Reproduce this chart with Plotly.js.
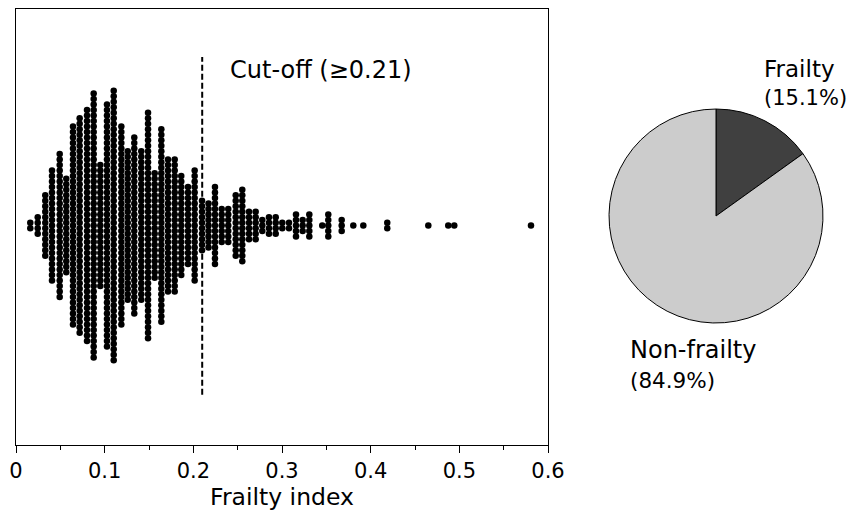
<!DOCTYPE html>
<html>
<head>
<meta charset="utf-8">
<script src="https://cdn.plot.ly/plotly-3.0.1.min.js"></script>
<style>
  html, body { margin: 0; padding: 0; background: #ffffff; }
  #chart { width: 852px; height: 511px; }
</style>
</head>
<body>
<div id="chart"></div>
<script>
// Distinct frailty index values and how many participants share each value
const fiValues = [0.0161, 0.0245, 0.0330, 0.0406, 0.0493, 0.0567, 0.0643, 0.0718, 0.0801, 0.0876,
                  0.0951, 0.1026, 0.1102, 0.1188, 0.1260, 0.1334, 0.1413, 0.1489, 0.1564, 0.1639,
                  0.1714, 0.1790, 0.1864, 0.1940, 0.2015, 0.2098, 0.2171, 0.2244, 0.2320, 0.2394,
                  0.2478, 0.2552, 0.2628, 0.2703, 0.2778, 0.2853, 0.2929, 0.3003, 0.3079, 0.3158,
                  0.3233, 0.3308, 0.3454, 0.3522, 0.3673, 0.3804, 0.3917, 0.4187, 0.4650, 0.4875,
                  0.4943, 0.5808];
const fiCounts = [2, 4, 12, 21, 27, 18, 37, 40, 43, 49,
                  23, 45, 50, 37, 28, 33, 28, 42, 20, 36,
                  25, 25, 19, 15, 21, 10, 9, 15, 7, 7,
                  12, 14, 6, 6, 3, 4, 4, 2, 2, 5,
                  3, 5, 1, 5, 3, 1, 1, 2, 1, 1,
                  1, 1];

// Frailty cut-off
const cutoff = 0.21;

// Prevalence pie
const pieLabels = ['Frailty', 'Non-frailty'];
const pieValues = [15.1, 84.9];
const pieColors = ['#404040', '#cccccc'];

// x-axis ticks
const tickVals = [0, 0.1, 0.2, 0.3, 0.4, 0.5, 0.6];
const tickText = ['0', '0.1', '0.2', '0.3', '0.4', '0.5', '0.6'];

// Beeswarm layout: participants sharing a value are stacked symmetrically around y = 0
const swarmX = [];
const swarmY = [];
fiValues.forEach((v, k) => {
  const n = fiCounts[k];
  for (let i = 0; i < n; i++) {
    swarmX.push(v);
    swarmY.push(i - (n - 1) / 2);
  }
});

const FONT = 'DejaVu Sans, Verdana, sans-serif';

const swarm = {
  type: 'scatter',
  mode: 'markers',
  x: swarmX,
  y: swarmY,
  marker: { color: '#000000', size: 6.5, line: { width: 0 } },
  hoverinfo: 'x',
  showlegend: false,
  xaxis: 'x',
  yaxis: 'y'
};

const pie = {
  type: 'pie',
  labels: pieLabels,
  values: pieValues,
  sort: false,
  direction: 'clockwise',
  rotation: 0,
  textinfo: 'none',
  hoverinfo: 'label+percent',
  marker: { colors: pieColors, line: { color: '#000000', width: 1 } },
  domain: { x: [0.7127, 0.9700], y: [0.2798, 0.7706] },
  showlegend: false
};

const pxPerRow = 5.5;
const plotH = 436;
const centreFromTop = 216.6;

// helpers for placing text in page pixels
const W = 832, L = 16, T = 9;
const px = x => (x - L) / W;
const py = y => 1 - (y - T) / plotH;

function pieText(label, x, y, size) {
  return {
    xref: 'paper', yref: 'paper',
    x: px(x), y: py(y),
    xanchor: 'left', yanchor: 'middle',
    text: label,
    showarrow: false,
    font: { family: FONT, size: size, color: '#000000' }
  };
}

const layout = {
  width: 852,
  height: 511,
  margin: { l: 16, r: 4, t: 9, b: 66 },
  paper_bgcolor: '#ffffff',
  plot_bgcolor: '#ffffff',
  font: { family: FONT, color: '#000000', size: 21 },
  showlegend: false,
  xaxis: {
    domain: [0, 532 / 832],
    range: [0, 0.6],
    tickvals: tickVals,
    ticktext: tickText,
    ticks: 'outside',
    ticklen: 7,
    tickwidth: 1,
    tickcolor: '#000000',
    minor: { dtick: 0.05, ticks: 'outside', ticklen: 4, tickwidth: 1, tickcolor: '#000000' },
    showline: true,
    linecolor: '#000000',
    linewidth: 1.2,
    mirror: true,
    showgrid: false,
    zeroline: false,
    tickfont: { family: FONT, size: 21, color: '#000000' },
    title: { text: 'Frailty index', font: { family: FONT, size: 23.5, color: '#000000' }, standoff: 3 }
  },
  yaxis: {
    range: [-(plotH - centreFromTop) / pxPerRow, centreFromTop / pxPerRow],
    showticklabels: false,
    ticks: '',
    showline: true,
    linecolor: '#000000',
    linewidth: 1.2,
    mirror: true,
    showgrid: false,
    zeroline: false
  },
  shapes: [{
    type: 'line',
    xref: 'x', yref: 'paper',
    x0: cutoff, x1: cutoff,
    y0: 0.115, y1: 0.89,
    line: { color: '#000000', width: 2, dash: '6px,3px' }
  }],
  annotations: [
    {
      xref: 'x', yref: 'paper',
      x: cutoff, y: py(70),
      xanchor: 'left', yanchor: 'middle',
      xshift: 26,
      text: 'Cut-off (≥' + cutoff.toFixed(2) + ')',
      showarrow: false,
      font: { family: FONT, size: 24, color: '#000000' }
    },
    pieText(pieLabels[0], 762, 69, 23),
    pieText('(' + pieValues[0].toFixed(1) + '%)', 762, 98, 21),
    pieText(pieLabels[1], 628, 350, 24),
    pieText('(' + pieValues[1].toFixed(1) + '%)', 628, 380, 21.5)
  ]
};

Plotly.newPlot('chart', [swarm, pie], layout, { displayModeBar: false, staticPlot: true });
</script>
</body>
</html>
